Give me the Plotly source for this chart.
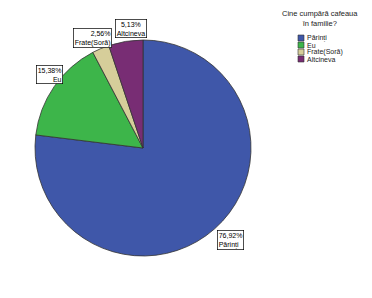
import math
import plotly.graph_objects as go

categories = ["Părinți", "Eu", "Frate(Soră)", "Altcineva"]
values = [76.92, 15.38, 2.56, 5.13]
pct_labels = ["76,92%", "15,38%", "2,56%", "5,13%"]
colors = ["#3F57A9", "#3DB54A", "#D6CE9A", "#782D74"]
legend_title = "Cine cumpără cafeaua<br>în familie?"

W, H = 372, 298
cx, cy, R = 143, 148, 108  # pixel layout of pie

fig = go.Figure(go.Pie(
    labels=categories, values=values, sort=False, direction="clockwise",
    rotation=0, textinfo="none", hoverinfo="label+percent",
    marker=dict(colors=colors, line=dict(color="#333333", width=0.8)),
    domain=dict(x=[(cx - R) / W, (cx + R) / W], y=[(H - cy - R) / H, (H - cy + R) / H]),
    showlegend=False,
))

annotations = []
total = sum(values)
cum = 0
offsets = [(16, 11), (-5, -12), (-8, -11), (5, -13)]  # label offset from slice edge, px
aligns = ["left", "right", "right", "center"]
for i, v in enumerate(values):
    mid = (cum + v / 2) / total * 2 * math.pi
    cum += v
    ex = cx + R * math.sin(mid)
    ey = cy - R * math.cos(mid)
    px, py = ex + offsets[i][0], ey + offsets[i][1]
    annotations.append(dict(
        x=px / W, y=1 - py / H, xref="paper", yref="paper", showarrow=False,
        xanchor="center", yanchor="middle",
        text=f"{pct_labels[i]}<br>{categories[i]}", align=aligns[i],
        font=dict(family="Liberation Sans", size=7, color="#000"),
        bordercolor="#000", borderwidth=0.7, borderpad=1, bgcolor="#fff",
    ))

# legend title
annotations.append(dict(
    x=320 / W, y=1 - 19 / H, xref="paper", yref="paper", showarrow=False,
    xanchor="center", yanchor="middle",
    text=legend_title, align="center",
    font=dict(family="Liberation Sans", size=7.5, color="#222"),
))
shapes = []
for i, c in enumerate(categories):
    yc = 38 + 7 * i
    shapes.append(dict(type="rect", xref="paper", yref="paper",
                       x0=298 / W, x1=304 / W, y0=1 - (yc + 3) / H, y1=1 - (yc - 3) / H,
                       fillcolor=colors[i], line=dict(color="#333", width=0.6)))
    annotations.append(dict(
        x=305 / W, y=1 - yc / H, xref="paper", yref="paper", showarrow=False,
        xanchor="left", yanchor="middle", text=c,
        font=dict(family="Liberation Sans", size=7, color="#222"),
    ))

fig.update_layout(
    width=W, height=H, margin=dict(l=0, r=0, t=0, b=0),
    paper_bgcolor="white", plot_bgcolor="white",
    annotations=annotations, shapes=shapes,
)
fig.write_html("out.html")
